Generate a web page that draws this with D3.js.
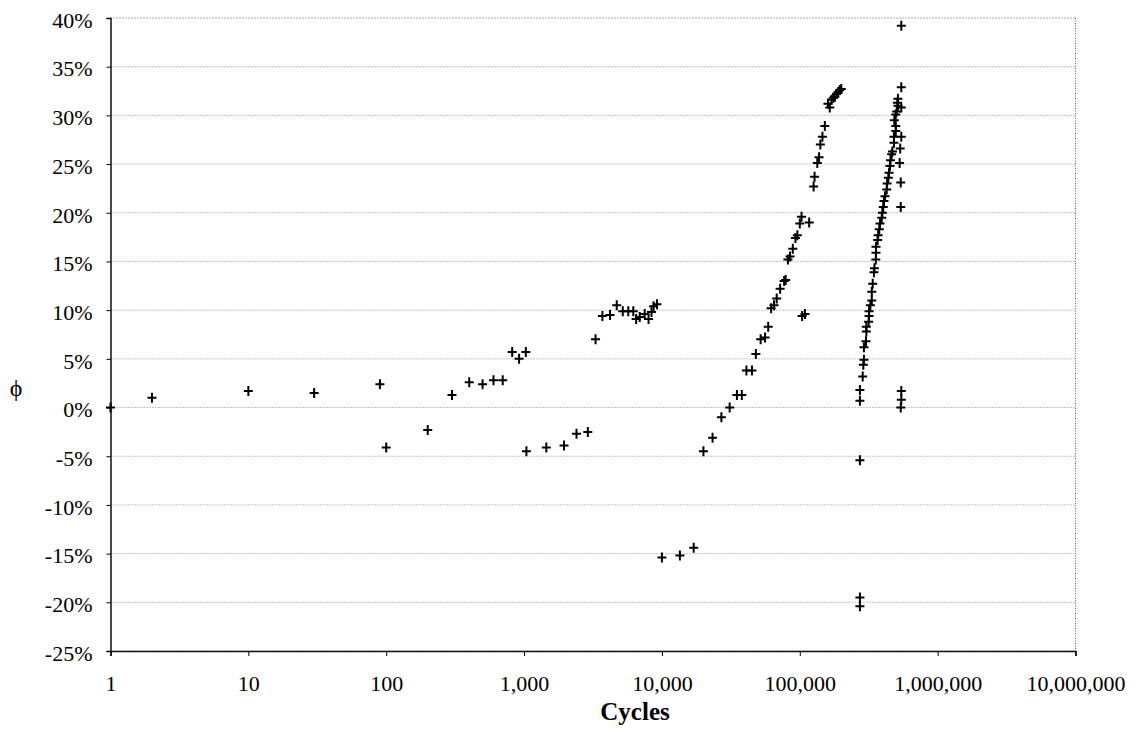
<!DOCTYPE html>
<html>
<head>
<meta charset="utf-8">
<script src="https://cdn.jsdelivr.net/npm/d3@7"></script>
<style>
  body { margin: 0; background: #fff; }
  svg { display: block; }
</style>
</head>
<body>
<svg id="canvas" width="1136" height="739"></svg>
<script>
"use strict"

// tick values for both axes
let xTicks = [1, 10, 100, 1000, 10000, 100000, 1000000, 10000000];
let yTicks = [0.40, 0.35, 0.30, 0.25, 0.20, 0.15, 0.10, 0.05, 0, -0.05, -0.10, -0.15, -0.20, -0.25];

// first specimen (short lives), phi in percent
let cyclesA = [1, 2, 10, 30, 90, 100, 200, 300, 400, 500, 600, 700, 820, 920, 1030,
    1040, 1450, 1950, 2400, 2900, 3300, 3700, 4200, 4700, 5200, 5700, 6200, 6500,
    6900, 7500, 8000, 8400, 8700, 9200];
let phiA = [0.0, 1.0, 1.7, 1.5, 2.4, -4.1, -2.3, 1.3, 2.6, 2.4, 2.8, 2.8, 5.7, 5.0, 5.7,
    -4.5, -4.1, -3.9, -2.7, -2.5, 7.0, 9.4, 9.5, 10.5, 9.9, 9.9, 9.9, 9.1,
    9.3, 9.6, 9.1, 9.8, 10.4, 10.6];

// second specimen
let cyclesB = [10000, 13500, 17000, 20000, 23300, 27000, 31000, 35000, 38000, 41000,
    45000, 48000, 52000, 56000, 59000, 62000, 65000, 68000, 72000, 77000, 79000,
    82000, 85000, 89000, 93000, 96000, 100000, 103000, 104000, 109000, 117000,
    126000, 128000, 134000, 138000, 141000, 146000, 152000, 160000, 165000, 170000,
    175000, 179000, 185000, 190000, 195000, 200000];
let phiB = [-15.4, -15.2, -14.4, -4.5, -3.1, -1.0, 0.0, 1.3, 1.3, 3.8,
    3.8, 5.5, 7.0, 7.2, 8.3, 10.2, 10.5, 11.2, 12.2, 13.0, 13.1,
    15.2, 15.5, 16.3, 17.4, 17.7, 18.9, 19.6, 9.4, 9.6, 19.0,
    22.7, 23.7, 25.1, 25.7, 27.0, 27.8, 28.9, 31.2, 30.8, 31.6,
    31.8, 31.9, 32.2, 32.4, 32.6, 32.7];

// third specimen
let cyclesC = [273000, 273000, 273000, 273000, 273000, 286000, 289000, 292000, 292000,
    302000, 304000, 304000, 316000, 318000, 318000, 325000, 333000, 333000, 338000,
    345000, 348000, 356000, 357000, 357000, 367000, 370000, 377000, 382000, 393000,
    397000, 403000, 408000, 415000, 427000, 430000, 439000, 444000, 451000, 455000,
    464000, 470000, 482000, 482000, 497000, 497000, 485000, 497000, 505000, 515000,
    510000, 515000, 545000, 545000, 545000, 545000, 535000, 530000, 540000, 540000,
    545000, 545000, 540000];
let phiC = [-20.4, -19.5, -5.4, 0.7, 1.8, 3.2, 4.4, 4.9, 6.2,
    6.8, 7.8, 8.3, 8.8, 9.4, 9.9, 10.5, 11.0, 11.9, 12.7,
    13.9, 14.3, 15.2, 15.9, 16.5, 17.2, 17.7, 18.3, 18.9, 19.5,
    20.0, 20.6, 21.2, 21.7, 22.4, 23.0, 23.6, 24.1, 24.8, 25.4,
    26.0, 26.3, 27.2, 27.8, 28.4, 28.9, 29.5, 30.1, 30.4, 31.0,
    31.3, 31.7, 30.8, 32.9, 39.2, 27.8, 26.6, 25.1, 23.1, 20.6,
    1.7, 0.8, 0.0];

let serif = "'Liberation Serif', 'Times New Roman', serif";

let drawing = d3.select("#canvas");

// plot area edges
let plotLeft = 110.5, plotRight = 1075.5, plotTop = 18, plotBottom = 651;

let x = d3.scaleLog().domain([1, 1e7]).range([plotLeft, plotRight]);
let y = d3.scaleLinear().domain([-0.25, 0.40]).range([plotBottom, plotTop]);

/* horizontal dotted gridlines */
drawing.append("g")
    .selectAll("line")
    .data(yTicks)
    .join("line")
    .attr("x1", plotLeft)
    .attr("x2", plotRight)
    .attr("y1", d => y(d))
    .attr("y2", d => y(d))
    .attr("stroke", (d, i) => i == 0 ? "#555" : "#888")
    .attr("stroke-width", 1)
    .attr("stroke-dasharray", "1,2");

/* dotted right border */
drawing.append("line")
    .attr("x1", plotRight).attr("x2", plotRight)
    .attr("y1", plotTop).attr("y2", plotBottom)
    .attr("stroke", "#555")
    .attr("stroke-dasharray", "1,1.5");

/* y axis */
let yAxis = drawing.append("g")
    .attr("transform", "translate(" + plotLeft + ",0)")
    .call(d3.axisLeft(y)
        .tickValues(yTicks)
        .tickSize(4)
        .tickPadding(14)
        .tickFormat(d => Math.round(d * 100) + "%"));
yAxis.selectAll("text")
    .style("font-family", serif)
    .style("font-size", "22px")
    .attr("fill", "#000")
    .attr("dy", "0.42em");
yAxis.select(".domain").attr("stroke", "#111").attr("stroke-width", 1.5);

/* x axis */
let xAxis = drawing.append("g")
    .attr("transform", "translate(0," + plotBottom + ")")
    .call(d3.axisBottom(x)
        .tickValues(xTicks)
        .tickSize(5)
        .tickPadding(19)
        .tickFormat(d3.format(",")));
xAxis.selectAll("text")
    .style("font-family", serif)
    .style("font-size", "22px")
    .attr("fill", "#000");
xAxis.select(".domain").attr("stroke", "#111").attr("stroke-width", 1.5);

/* axis titles */
drawing.append("text")
    .attr("x", 635)
    .attr("y", 720)
    .attr("text-anchor", "middle")
    .style("font-family", serif)
    .style("font-size", "25px")
    .style("font-weight", "bold")
    .text("Cycles");

drawing.append("text")
    .attr("x", 16)
    .attr("y", 396)
    .attr("text-anchor", "middle")
    .style("font-family", serif)
    .style("font-size", "24px")
    .text("ϕ");

/* data points as plus markers */
let points = [];
cyclesA.forEach((c, i) => points.push([c, phiA[i]]));
cyclesB.forEach((c, i) => points.push([c, phiB[i]]));
cyclesC.forEach((c, i) => points.push([c, phiC[i]]));

drawing.append("g")
    .selectAll("path")
    .data(points)
    .join("path")
    .attr("transform", d => "translate(" + x(d[0]) + "," + y(d[1] / 100) + ")")
    .attr("d", "M-4.5,0H4.5M0,-5V5")
    .attr("stroke", "#000")
    .attr("stroke-width", 2)
    .attr("fill", "none");
</script>
</body>
</html>
